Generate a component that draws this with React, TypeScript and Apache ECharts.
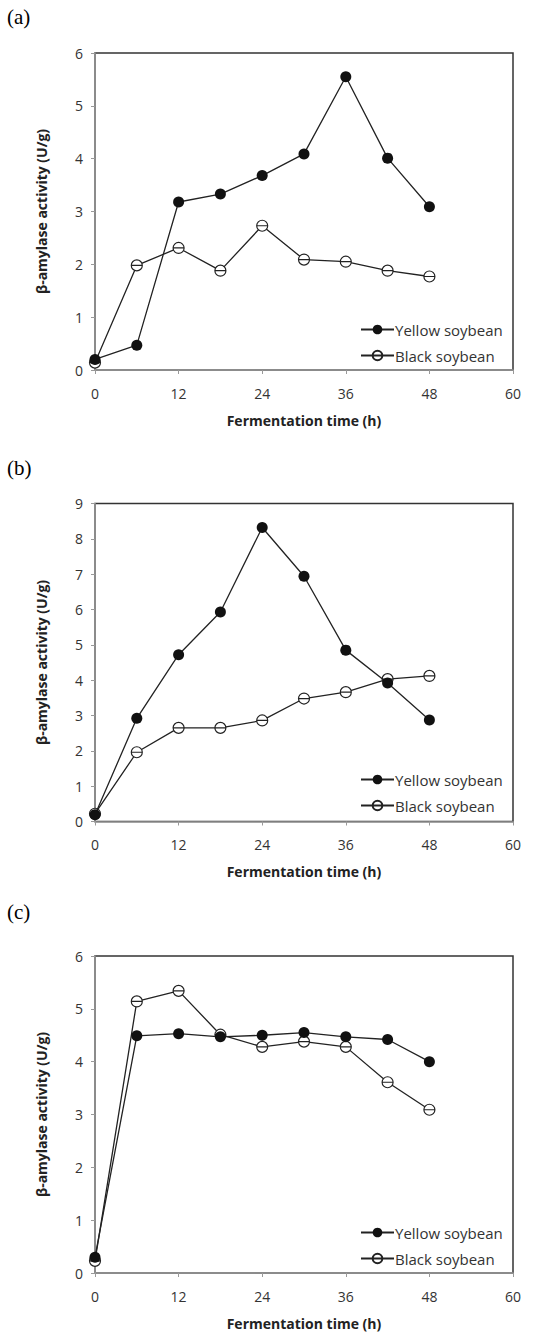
import React, { useEffect, useRef } from "react";
import * as echarts from "echarts";

const hours = [0, 6, 12, 18, 24, 30, 36, 42, 48];
const xTicks = [0, 12, 24, 36, 48, 60];

const yellowA = [0.2, 0.47, 3.18, 3.33, 3.68, 4.09, 5.55, 4.01, 3.09];
const blackA = [0.14, 1.98, 2.31, 1.88, 2.73, 2.09, 2.05, 1.88, 1.77];

const yellowB = [0.19, 2.92, 4.72, 5.93, 8.32, 6.94, 4.85, 3.92, 2.87];
const blackB = [0.22, 1.96, 2.65, 2.65, 2.86, 3.48, 3.66, 4.03, 4.12];

const yellowC = [0.3, 4.49, 4.53, 4.47, 4.5, 4.55, 4.47, 4.42, 4.0];
const blackC = [0.23, 5.14, 5.34, 4.51, 4.28, 4.38, 4.28, 3.61, 3.09];

const panelLabels = ["(a)", "(b)", "(c)"];
const yMax = [6, 9, 6];
const seriesNames = ["Yellow soybean", "Black soybean"];
const xTitle = "Fermentation time (h)";
const yTitle = "β-amylase activity (U/g)";

const panels = [
  { yellow: yellowA, black: blackA },
  { yellow: yellowB, black: blackB },
  { yellow: yellowC, black: blackC },
];

const gridTops = [53, 503.5, 956];
const gridHeights = [317, 318, 317];
const labelTops = [17, 468, 912];
const legendTops = [317, 767, 1220];

const openCircle =
  "path://M10,0A10,10 0 1,1 10,20A10,10 0 1,1 10,0ZM0,10L20,10";

const tickFont = "'Open Sans', 'Noto Sans', sans-serif";

export default function App() {
  const ref = useRef<HTMLDivElement>(null);
  useEffect(() => {
    document.body.style.margin = "0";
    const chart = echarts.init(ref.current!, null, { renderer: "svg" });
    const grid = panels.map((_, i) => ({
      left: 95,
      top: gridTops[i],
      width: 418,
      height: gridHeights[i],
      show: true,
      borderColor: "#333",
      borderWidth: 1.5,
      backgroundColor: "#fff",
    }));
    const xAxis = panels.map((_, i) => ({
      type: "value",
      gridIndex: i,
      min: 0,
      max: 60,
      interval: 12,
      name: xTitle,
      nameLocation: "middle",
      nameGap: 43,
      nameTextStyle: {
        fontFamily: tickFont,
        fontWeight: "bold",
        fontSize: 14,
        color: "#222",
      },
      axisLine: { show: true, lineStyle: { color: "#999", width: 1.5 } },
      axisTick: { show: true, inside: false, length: 4, lineStyle: { color: "#999" } },
      axisLabel: {
        margin: 16,
        fontFamily: tickFont,
        fontSize: 14,
        color: "#333",
        customValues: xTicks,
      },
      splitLine: { show: false },
    }));
    const yAxis = panels.map((_, i) => ({
      type: "value",
      gridIndex: i,
      min: 0,
      max: yMax[i],
      interval: 1,
      name: yTitle,
      nameLocation: "middle",
      nameGap: 47,
      nameRotate: 90,
      nameTextStyle: {
        fontFamily: tickFont,
        fontWeight: "bold",
        fontSize: 14,
        color: "#222",
      },
      axisLine: { show: true, lineStyle: { color: "#999", width: 1.5 } },
      axisTick: { show: true, inside: false, length: 4, lineStyle: { color: "#999" } },
      axisLabel: {
        margin: 12,
        fontFamily: tickFont,
        fontSize: 14,
        color: "#333",
      },
      splitLine: { show: false },
    }));
    const series: any[] = [];
    panels.forEach((p, i) => {
      series.push({
        type: "line",
        name: seriesNames[0],
        xAxisIndex: i,
        yAxisIndex: i,
        data: hours.map((h, k) => [h, p.yellow[k]]),
        symbol: "circle",
        symbolSize: 11,
        itemStyle: { color: "#111" },
        lineStyle: { color: "#222", width: 1.3 },
        z: 3,
      });
      series.push({
        type: "line",
        name: seriesNames[1],
        xAxisIndex: i,
        yAxisIndex: i,
        data: hours.map((h, k) => [h, p.black[k]]),
        symbol: openCircle,
        symbolSize: 11,
        itemStyle: { color: "#fff", borderColor: "#222", borderWidth: 1.2 },
        lineStyle: { color: "#222", width: 1.3 },
        z: 2,
      });
    });
    const legend = panels.map((_, i) => ({
      orient: "vertical",
      left: 355,
      top: legendTops[i],
      itemWidth: 33,
      itemHeight: 12,
      itemGap: 11,
      data: seriesNames,
      selectedMode: false,
      textStyle: { fontFamily: tickFont, fontSize: 15, color: "#333", padding: [0, 0, 0, -4] },
    }));
    const graphic = panels.map((_, i) => ({
      type: "text",
      left: 7,
      top: labelTops[i] - 11,
      style: {
        text: panelLabels[i],
        font: "21px 'Liberation Serif', serif",
        fill: "#000",
      },
    }));
    chart.setOption({
      animation: false,
      backgroundColor: "#fff",
      grid,
      xAxis,
      yAxis,
      series,
      legend,
      graphic,
    });
    return () => chart.dispose();
  }, []);
  return <div ref={ref} style={{ width: 533, height: 1335 }} />;
}
